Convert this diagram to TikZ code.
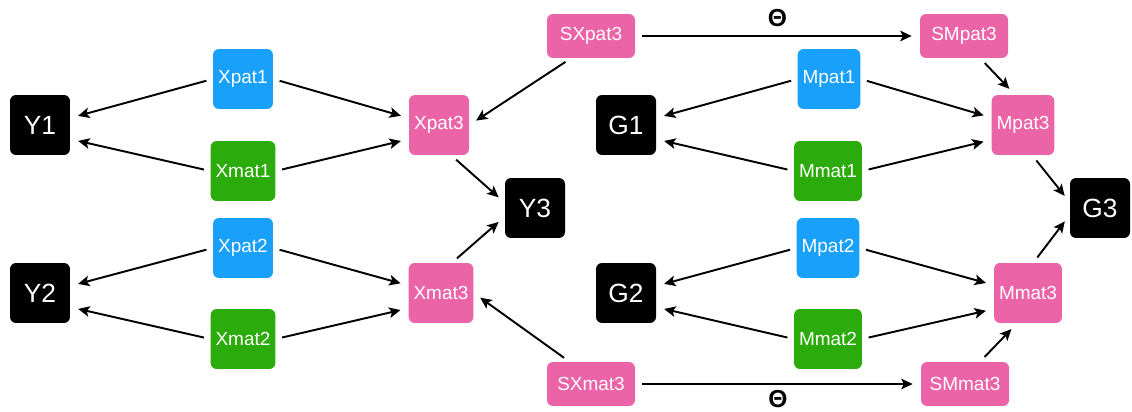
\documentclass[tikz,border=0pt]{standalone}
\usepackage{fontspec}
\setmainfont{Liberation Sans}
\usepackage{tikz}
\usetikzlibrary{arrows.meta}

\definecolor{patblue}{RGB}{24,160,250}
\definecolor{matgreen}{RGB}{44,172,12}
\definecolor{sumpink}{RGB}{236,100,168}

\begin{document}
\begin{tikzpicture}[x=0.02cm, y=-0.02cm,
    box/.style={rounded corners=0.12cm, text=white, inner sep=2.8pt,
      minimum width=1.2cm, minimum height=1.2cm,
      font=\fontsize{10.8}{12}\selectfont},
    pat/.style={box, fill=patblue},
    mat/.style={box, fill=matgreen},
    tri/.style={box, fill=sumpink},
    sbox/.style={tri, minimum width=1.76cm, minimum height=0.88cm},
    obs/.style={box, fill=black, font=\fontsize{15}{17}\selectfont},
    theta/.style={font=\fontsize{14}{15}\bfseries, inner sep=0.5pt},
    arr/.style={-{Stealth[length=6.5pt, width=6pt, inset=1.5pt]}, line width=1.1pt,
      shorten <=0.13cm, shorten >=0.16cm}]
        \useasboundingbox (0,0) rectangle (1132,412);

        % Left block
        \node[obs] (Y1) at (40,125) {Y1};
        \node[obs] (Y2) at (40,293) {Y2};
        \node[pat] (Xpat1) at (243,79) {Xpat1};
        \node[mat] (Xmat1) at (243,171) {Xmat1};
        \node[pat] (Xpat2) at (243,248) {Xpat2};
        \node[mat] (Xmat2) at (243,339) {Xmat2};
        \node[tri] (Xpat3) at (439,125) {Xpat3};
        \node[tri] (Xmat3) at (441,293) {Xmat3};
        \node[obs] (Y3) at (535,208) {Y3};
        \node[sbox] (SXpat3) at (591,36) {SXpat3};
        \node[sbox] (SXmat3) at (591,384) {SXmat3};

        % Right block
        \node[obs] (G1) at (626,125) {G1};
        \node[obs] (G2) at (626,293) {G2};
        \node[pat] (Mpat1) at (829,79) {Mpat1};
        \node[mat] (Mmat1) at (828,171) {Mmat1};
        \node[pat] (Mpat2) at (828,248) {Mpat2};
        \node[mat] (Mmat2) at (828,339) {Mmat2};
        \node[tri] (Mpat3) at (1023,125) {Mpat3};
        \node[tri] (Mmat3) at (1028,293) {Mmat3};
        \node[obs] (G3) at (1100,208) {G3};
        \node[sbox] (SMpat3) at (964,36) {SMpat3};
        \node[sbox] (SMmat3) at (965,384) {SMmat3};

        % Arrows, left
        \draw[arr] (Xpat1.west) -- (Y1.13);
        \draw[arr] (Xmat1.west) -- (Y1.-25);
        \draw[arr] (Xpat2.west) -- (Y2.13);
        \draw[arr] (Xmat2.west) -- (Y2.-25);
        \draw[arr] (Xpat1.east) -- (Xpat3.167);
        \draw[arr] (Xmat1.east) -- (Xpat3.205);
        \draw[arr] (Xpat2.east) -- (Xmat3.167);
        \draw[arr] (Xmat2.east) -- (Xmat3.205);
        \draw[arr] (SXpat3.-132) -- (Xpat3.east);
        \draw[arr] (SXmat3.134) -- (Xmat3.east);
        \draw[arr] (Xpat3.-68) -- (Y3.170);
        \draw[arr] (Xmat3.70) -- (Y3.196);

        % Arrows, right
        \draw[arr] (Mpat1.west) -- (G1.13);
        \draw[arr] (Mmat1.west) -- (G1.-25);
        \draw[arr] (Mpat2.west) -- (G2.13);
        \draw[arr] (Mmat2.west) -- (G2.-25);
        \draw[arr] (Mpat1.east) -- (Mpat3.167);
        \draw[arr] (Mmat1.east) -- (Mpat3.205);
        \draw[arr] (Mpat2.east) -- (Mmat3.167);
        \draw[arr] (Mmat2.east) -- (Mmat3.205);
        \draw[arr] (SMpat3.-54) -- (Mpat3.105);
        \draw[arr] (SMmat3.56) -- (Mmat3.-110);
        \draw[arr] (Mpat3.-73) -- (G3.169);
        \draw[arr] (Mmat3.80) -- (G3.193);

        % Theta links
        \draw[arr] (SXpat3.east) -- (SMpat3.west)
          node[midway, above=4.5pt, theta] {Θ};
        \draw[arr] (SXmat3.east) -- (SMmat3.west)
          node[midway, below=2.5pt, theta] {Θ};
\end{tikzpicture}
\end{document}
